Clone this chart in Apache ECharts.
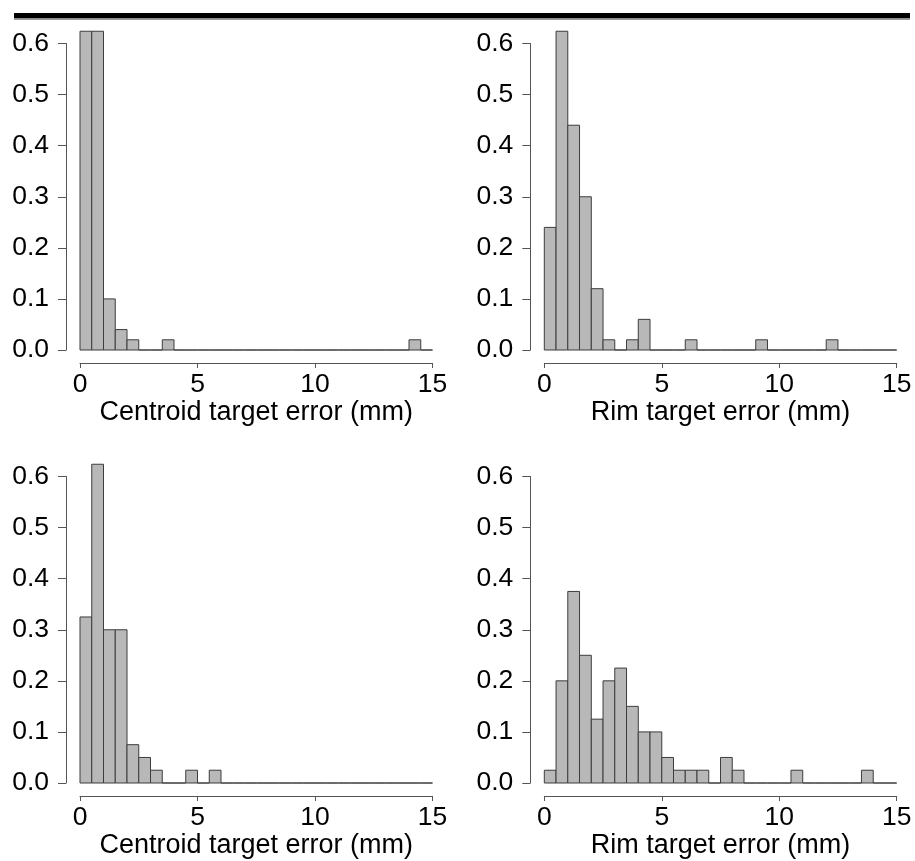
<!DOCTYPE html>
<html>
<head>
<meta charset="utf-8">
<script src="https://cdn.jsdelivr.net/npm/echarts@6/dist/echarts.min.js"></script>
<style>
  html, body { margin: 0; padding: 0; background: #fff; }
  #chart { width: 915px; height: 861px; }
</style>
</head>
<body>
<div id="chart"></div>
<script>
// left edge of every 0.5 mm bin
const binStarts = [0, 0.5, 1, 1.5, 2, 2.5, 3, 3.5, 4, 4.5, 5, 5.5, 6, 6.5, 7, 7.5,
  8, 8.5, 9, 9.5, 10, 10.5, 11, 11.5, 12, 12.5, 13, 13.5, 14, 14.5]
const binWidth = 0.5

// densities (tallest bars are cut at the top of the plot)
const centroidTop = [0.624, 0.624, 0.10, 0.04, 0.02, 0, 0, 0.02, 0, 0, 0, 0, 0, 0, 0, 0,
  0, 0, 0, 0, 0, 0, 0, 0, 0, 0, 0, 0, 0.02, 0]
const rimTop = [0.24, 0.624, 0.44, 0.30, 0.12, 0.02, 0, 0.02, 0.06, 0, 0, 0, 0.02, 0, 0, 0,
  0, 0, 0.02, 0, 0, 0, 0, 0, 0.02, 0, 0, 0, 0, 0]
const centroidBottom = [0.325, 0.624, 0.30, 0.30, 0.075, 0.05, 0.025, 0, 0, 0.025, 0, 0.025, 0, 0, 0, 0,
  0, 0, 0, 0, 0, 0, 0, 0, 0, 0, 0, 0, 0, 0]
const rimBottom = [0.025, 0.2, 0.375, 0.25, 0.125, 0.2, 0.225, 0.15, 0.1, 0.1, 0.05, 0.025, 0.025, 0.025, 0, 0.05,
  0.025, 0, 0, 0, 0, 0.025, 0, 0, 0, 0, 0, 0.025, 0, 0]

const xTicks = [0, 5, 10, 15]
const yTicks = [0, 0.1, 0.2, 0.3, 0.4, 0.5, 0.6]
const xTitles = ['Centroid target error (mm)', 'Rim target error (mm)',
  'Centroid target error (mm)', 'Rim target error (mm)']
const panels = [centroidTop, rimTop, centroidBottom, rimBottom]

const font = "'Liberation Sans', Arial, Helvetica, sans-serif"
const axisColor = '#555'
const fontSize = 26.5

const grids = [
  { left: 80, top: 43.5, width: 352.5, height: 306.5 },
  { left: 544.3, top: 43.5, width: 352.4, height: 306.5 },
  { left: 80, top: 476.5, width: 352.5, height: 306.5 },
  { left: 544.3, top: 476.5, width: 352.4, height: 306.5 }
]

const xAxes = grids.map((g, i) => ({
  type: 'value',
  gridIndex: i,
  min: xTicks[0],
  max: xTicks[xTicks.length - 1],
  interval: 5,
  offset: 13,
  splitLine: { show: false },
  axisLine: { onZero: false, lineStyle: { color: axisColor, width: 1 } },
  axisTick: { length: 5, lineStyle: { color: axisColor } },
  axisLabel: { color: '#000', fontSize: fontSize, fontFamily: font, margin: 8 },
  name: xTitles[i],
  nameLocation: 'middle',
  nameGap: 31,
  nameTextStyle: { color: '#000', fontSize: 27, fontFamily: font }
}))

const yAxes = grids.map((g, i) => ({
  type: 'value',
  gridIndex: i,
  min: yTicks[0],
  max: yTicks[yTicks.length - 1],
  interval: 0.1,
  offset: 14,
  splitLine: { show: false },
  axisLine: { show: true, onZero: false, lineStyle: { color: axisColor, width: 1 } },
  axisTick: { show: true, length: 8, lineStyle: { color: axisColor } },
  axisLabel: {
    color: '#000', fontSize: fontSize, fontFamily: font, margin: 17,
    formatter: v => v.toFixed(1)
  }
}))

const renderBin = (params, api) => {
  const x0 = api.value(0)
  const v = api.value(1)
  const topLeft = api.coord([x0, v])
  const bottomRight = api.coord([x0 + binWidth, 0])
  return {
    type: 'rect',
    shape: {
      x: topLeft[0],
      y: topLeft[1],
      width: bottomRight[0] - topLeft[0],
      height: bottomRight[1] - topLeft[1]
    },
    style: { fill: '#b8b8b8', stroke: '#3c3c3c', lineWidth: 1 }
  }
}

const series = panels.map((vals, i) => ({
  type: 'custom',
  xAxisIndex: i,
  yAxisIndex: i,
  clip: false,
  renderItem: renderBin,
  data: binStarts.map((x, j) => [x, vals[j]])
}))

const myChart = echarts.init(document.getElementById('chart'))
myChart.setOption({
  animation: false,
  backgroundColor: '#fff',
  grid: grids,
  xAxis: xAxes,
  yAxis: yAxes,
  series: series,
  graphic: [
    { type: 'rect', shape: { x: 14, y: 13, width: 896, height: 5.5 }, style: { fill: '#000' } },
    { type: 'rect', shape: { x: 14, y: 18.5, width: 896, height: 1.5 }, style: { fill: '#9a9a9a' } }
  ]
})
</script>
</body>
</html>
